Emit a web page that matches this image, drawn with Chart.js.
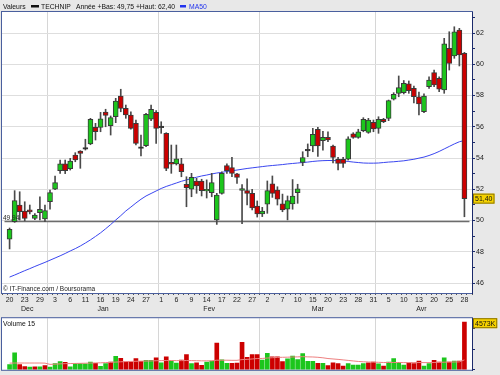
<!DOCTYPE html>
<html>
<head>
<meta charset="utf-8">
<script src="https://cdn.jsdelivr.net/npm/chart.js@4.4.0/dist/chart.umd.min.js"></script>
<style>
  body { margin: 0; background: #e8e8e8; width: 500px; height: 375px; overflow: hidden; position: relative; }
  canvas { position: absolute; left: 0; }
  #main { top: 0; }
  #vol { top: 313px; }
</style>
</head>
<body>
<canvas id="main" width="500" height="313"></canvas>
<canvas id="vol" width="500" height="62"></canvas>
<script>
// TECHNIP, 20 dec -> 28 avr, one entry per trading day
const opens = [48.80,49.92,50.99,50.61,50.68,50.14,50.50,50.10,51.20,52.00,
  53.19,53.62,53.32,54.19,54.45,54.57,54.90,55.96,55.96,56.94,
  56.07,56.64,57.97,57.18,56.75,56.22,54.62,54.79,56.48,56.92,
  55.94,55.58,53.72,53.62,53.62,52.32,52.00,52.53,52.53,51.89,
  51.78,50.03,51.74,53.51,53.38,52.98,51.93,51.91,51.74,50.93,
  50.42,51.04,52.34,51.95,51.06,50.72,51.06,51.78,53.72,54.46,
  54.77,55.84,55.11,55.32,54.77,53.92,53.92,53.92,55.54,55.32,
  55.75,55.64,56.28,55.90,56.48,56.54,57.76,58.14,58.18,58.74,
  58.46,57.92,56.96,58.56,59.46,59.10,58.35,61.02,60.53,62.19,
  60.70];
const highs = [49.52,51.91,51.84,51.20,50.99,50.45,51.52,50.99,51.95,52.85,
  53.87,53.87,53.98,54.34,54.47,55.20,56.54,56.22,56.92,57.12,
  56.69,57.82,58.40,57.39,56.96,56.43,55.47,56.86,57.39,57.03,
  56.32,55.62,54.83,54.83,53.98,52.80,53.02,52.70,52.64,52.60,
  53.02,51.74,53.12,53.62,54.04,53.02,52.30,52.66,51.99,51.25,
  50.84,52.53,52.85,52.16,51.69,51.57,52.62,52.32,54.40,54.90,
  55.90,55.96,55.70,55.68,54.83,54.04,54.04,55.36,55.62,55.84,
  56.58,56.54,56.43,56.64,56.54,57.71,58.18,59.25,58.96,58.93,
  58.60,58.22,58.10,59.20,59.63,59.20,61.66,62.08,62.40,62.30,
  60.76];
const lows = [48.18,49.88,50.03,49.98,50.42,50.05,50.03,49.93,50.72,51.98,
  53.02,53.00,53.23,53.76,53.34,54.51,54.85,55.15,55.68,56.00,
  55.47,56.26,56.96,56.54,55.84,54.83,54.13,54.72,56.39,54.94,
  55.58,53.19,53.02,53.55,52.80,50.88,51.52,51.74,51.57,51.44,
  51.52,49.75,51.68,53.02,52.80,52.38,49.80,50.99,50.67,50.22,
  50.25,50.46,51.48,50.99,50.56,50.04,50.72,51.10,53.51,54.08,
  54.40,54.10,54.50,55.04,53.68,53.23,53.40,53.87,55.26,55.26,
  55.68,55.58,55.68,55.58,56.26,56.39,57.71,57.92,58.10,58.14,
  57.52,56.75,56.90,58.46,58.56,58.24,58.14,59.63,60.38,59.89,
  50.24];
const closes = [49.44,51.27,50.56,50.14,50.55,50.35,50.71,50.64,51.78,52.42,
  53.62,53.19,53.81,53.87,54.30,54.57,56.48,55.68,56.50,56.73,
  56.58,57.65,57.18,56.75,55.90,54.94,54.62,56.80,57.12,55.90,
  55.94,53.34,53.60,53.94,53.12,52.10,52.76,52.21,51.91,51.99,
  52.42,51.63,53.02,53.19,53.02,52.76,52.04,51.74,50.80,50.42,
  50.61,51.91,51.74,51.36,50.67,51.27,51.57,52.02,54.02,54.46,
  55.52,54.77,55.32,55.15,54.04,53.66,53.66,55.22,55.32,55.68,
  56.48,56.43,55.86,56.48,56.32,57.67,58.08,58.50,58.78,58.31,
  57.92,57.46,57.97,58.99,58.67,58.40,61.30,60.06,62.08,60.59,
  51.40];
const ma50 = [46.38,46.51,46.65,46.79,46.92,47.06,47.19,47.32,47.46,47.60,
  47.74,47.89,48.05,48.20,48.37,48.56,48.76,48.98,49.21,49.47,
  49.74,50.03,50.31,50.61,50.86,51.12,51.36,51.57,51.73,51.89,
  52.05,52.18,52.29,52.40,52.51,52.60,52.69,52.77,52.85,52.91,
  52.98,53.04,53.08,53.14,53.18,53.23,53.28,53.33,53.37,53.41,
  53.45,53.49,53.52,53.55,53.58,53.62,53.65,53.68,53.71,53.74,
  53.78,53.81,53.83,53.84,53.84,53.83,53.81,53.78,53.74,53.71,
  53.68,53.67,53.67,53.68,53.71,53.74,53.76,53.79,53.82,53.87,
  53.92,53.99,54.06,54.16,54.28,54.42,54.58,54.74,54.90,55.04,
  55.12];
// volumes in K
const volumes = [508,1639,508,311,254,283,283,396,254,593,
  791,706,283,593,593,565,735,622,339,593,
  735,1300,1102,735,735,1074,819,904,904,1158,
  678,1243,848,650,932,1469,593,678,424,735,
  848,2571,961,622,622,650,2627,1187,1469,1469,
  932,1582,1243,1243,791,1045,1328,989,1554,819,
  819,622,622,396,678,593,367,593,452,452,
  593,678,735,565,367,735,1074,706,452,650,
  593,848,367,593,904,735,1158,735,848,848,
  4573];
const volMa15 = [640,650,650,650,650,650,650,640,520,540,
  570,590,600,610,620,630,650,660,670,690,
  710,740,770,790,800,820,830,840,850,870,
  880,890,890,880,880,890,880,870,860,860,
  860,920,920,920,910,910,980,1000,1040,1080,
  1090,1130,1160,1190,1200,1210,1230,1240,1260,1240,
  1230,1200,1150,1080,1040,1000,950,900,850,800,
  770,750,730,720,700,700,700,700,690,690,
  690,700,690,690,700,710,730,740,750,760,
  950];
const tickIdx = [0,3,6,9,12,15,18,21,24,27,30,33,36,39,42,45,48,51,54,57,60,63,66,69,72,75,78,81,84,87,90];
const tickText = ['20','23','29','3','6','11','16','19','24','27','1','6','9','14','17','22','27','2','7','10','15','20','23','28','31','5','10','13','20','25','28'];
const monthNames = ['Dec','Jan','Fev','Mar','Avr'];
const monthStart = [0, 8, 30, 50, 73];
const refPrice = 49.94;

const GREEN = '#1cc61c', RED = '#cc0000', DOJI = '#222222';
const FONT = 'Liberation Sans, Arial, sans-serif';
const n = closes.length;
const last = n - 1;

const bodyColors = closes.map((c, i) => c > opens[i] ? GREEN : (c < opens[i] ? RED : DOJI));
const volColors = closes.map((c, i) => (i === 0 || c > closes[i - 1]) ? GREEN : RED);
const fmt = v => v.toFixed(2).replace('.', ',');

// white plot area + frame
const panel = {
  id: 'panel',
  beforeDraw(chart) {
    const a = chart.chartArea, ctx = chart.ctx;
    ctx.save();
    ctx.fillStyle = '#ffffff';
    ctx.fillRect(a.left, a.top, a.right - a.left, a.bottom - a.top);
    ctx.restore();
  },
  afterDatasetsDraw(chart) {
    const a = chart.chartArea, ctx = chart.ctx;
    ctx.save();
    ctx.strokeStyle = '#4a5f9e';
    ctx.lineWidth = 1;
    ctx.strokeRect(a.left - 0.5, a.top - 0.5, a.right - a.left + 1, a.bottom - a.top + 1);
    ctx.strokeStyle = '#1b2a6b';
    ctx.beginPath();
    ctx.moveTo(a.right + 0.5, a.top); ctx.lineTo(a.right + 0.5, a.bottom + 1);
    ctx.stroke();
    ctx.restore();
  }
};

function yellowBox(ctx, x, yc, text) {
  ctx.font = '7px ' + FONT;
  const w = ctx.measureText(text).width + 4;
  ctx.fillStyle = '#f5d200';
  ctx.fillRect(x, yc - 5, w, 10);
  ctx.strokeStyle = '#8a7400';
  ctx.strokeRect(x + 0.5, yc - 4.5, w - 1, 9);
  ctx.fillStyle = '#111';
  ctx.textBaseline = 'middle';
  ctx.textAlign = 'left';
  ctx.fillText(text, x + 2, yc + 0.5);
}

const mainText = {
  id: 'mainText',
  afterDraw(chart) {
    const ctx = chart.ctx, x = chart.scales.x, y = chart.scales.y, a = chart.chartArea;
    ctx.save();
    // legend row (year = from first trading day of January)
    const yearHigh = Math.max(...highs.slice(monthStart[1]));
    const yearLow = Math.min(...lows.slice(monthStart[1]));
    ctx.font = '6.8px ' + FONT;
    ctx.textBaseline = 'alphabetic';
    ctx.textAlign = 'left';
    ctx.fillStyle = '#111';
    ctx.fillText('Valeurs', 3, 9);
    ctx.fillRect(31, 5, 8, 2.5);
    ctx.fillText('TECHNIP', 41, 9);
    ctx.fillText('Année +Bas: ' + fmt(yearLow) + ' +Haut: ' + fmt(yearHigh), 76, 9);
    ctx.fillStyle = '#2233ee';
    ctx.fillRect(180, 5, 6, 2.5);
    ctx.fillText('MA50', 189, 9);
    // source + reference price
    ctx.fillStyle = '#222';
    ctx.font = '6.5px ' + FONT;
    ctx.fillText('© IT-Finance.com / Boursorama', a.left + 1, a.bottom - 2);
    ctx.fillText(fmt(refPrice), a.left + 1, y.getPixelForValue(refPrice) - 1.5);
    // months
    ctx.font = '7px ' + FONT;
    ctx.textAlign = 'center';
    ctx.fillStyle = '#222';
    monthNames.forEach((m, k) => {
      const end = k < monthStart.length - 1 ? monthStart[k + 1] - 1 : last;
      ctx.fillText(m, x.getPixelForValue((monthStart[k] + end) / 2), 311);
    });
    // last price box
    yellowBox(ctx, a.right + 1, y.getPixelForValue(closes[last]), fmt(closes[last]));
    ctx.restore();
  }
};

const volText = {
  id: 'volText',
  afterDraw(chart) {
    const ctx = chart.ctx, y = chart.scales.y, a = chart.chartArea;
    ctx.save();
    ctx.font = '6.8px ' + FONT;
    ctx.fillStyle = '#111';
    ctx.textBaseline = 'alphabetic';
    ctx.fillText('Volume 15', a.left + 1, a.top + 8);
    const yc = Math.max(a.top + 5, y.getPixelForValue(volumes[last]) + 1);
    yellowBox(ctx, a.right + 1, yc, volumes[last] + 'K');
    ctx.restore();
  }
};

const monthGrid = ctx => (ctx.tick && monthStart.includes(ctx.tick.value) && ctx.tick.value > 0) ? '#d6d6d6' : 'transparent';

new Chart(document.getElementById('main'), {
  type: 'bar',
  data: {
    datasets: [
      {
        label: 'body',
        data: opens.map((o, i) => ({ x: i, y: [o, closes[i]] })),
        backgroundColor: bodyColors,
        borderColor: '#3a3a3a',
        borderWidth: 1,
        borderSkipped: false,
        barThickness: 5,
        minBarLength: 1.5,
        grouped: false
      },
      {
        label: 'wick',
        data: lows.map((l, i) => ({ x: i, y: [l, highs[i]] })),
        backgroundColor: '#4a4a4a',
        barThickness: 1,
        grouped: false
      },
      {
        type: 'line',
        label: 'MA50',
        data: ma50.map((v, i) => ({ x: i, y: v })),
        borderColor: '#3a46f0',
        borderWidth: 1,
        pointRadius: 0,
        tension: 0
      },
      {
        type: 'line',
        label: 'ref',
        data: [{ x: -1, y: refPrice }, { x: 91, y: refPrice }],
        borderColor: '#6c6c6c',
        borderWidth: 1.6,
        pointRadius: 0
      }
    ]
  },
  options: {
    responsive: false,
    animation: false,
    events: [],
    layout: { padding: { left: 2, top: 12, right: 0, bottom: 0 } },
    plugins: { legend: { display: false }, tooltip: { enabled: false } },
    scales: {
      x: {
        type: 'linear', min: -1, max: 91,
        afterFit: s => { s.height = 20; },
        border: { display: false },
        grid: { color: monthGrid, tickColor: '#555', tickLength: 2 },
        ticks: {
          stepSize: 1, autoSkip: false, maxRotation: 0, includeBounds: false, padding: 1,
          color: '#222', font: { size: 7, family: FONT },
          callback: v => { const k = tickIdx.indexOf(v); return k < 0 ? '' : tickText[k]; }
        }
      },
      y: {
        position: 'right', min: 45.36, max: 63.344,
        afterFit: s => { s.width = 28; },
        border: { color: '#1b2a6b' },
        grid: { color: c => c.tick.value % 2 === 0 ? '#dedede' : 'transparent', tickColor: '#1b2a6b', tickLength: 3 },
        ticks: {
          stepSize: 1, includeBounds: false, padding: 1,
          color: '#222', font: { size: 7, family: FONT },
          callback: v => v % 2 === 0 ? v : ''
        }
      }
    }
  },
  plugins: [panel, mainText]
});

new Chart(document.getElementById('vol'), {
  type: 'bar',
  data: {
    datasets: [
      {
        type: 'line',
        label: 'MA15',
        data: volMa15.map((v, i) => ({ x: i, y: v })),
        borderColor: '#ee8080',
        borderWidth: 1,
        pointRadius: 0,
        tension: 0
      },
      {
        label: 'Volume',
        data: volumes.map((v, i) => ({ x: i, y: v })),
        backgroundColor: volColors,
        barThickness: 4,
        grouped: false
      }
    ]
  },
  options: {
    responsive: false,
    animation: false,
    events: [],
    layout: { padding: { left: 2, top: 0, right: 0, bottom: 3 } },
    plugins: { legend: { display: false }, tooltip: { enabled: false } },
    scales: {
      x: {
        type: 'linear', min: -1, max: 91,
        afterFit: s => { s.height = 0; },
        border: { display: false },
        grid: { color: monthGrid, drawTicks: false },
        ticks: { display: false, stepSize: 1, includeBounds: false }
      },
      y: {
        position: 'right', min: 0, max: 4950,
        afterFit: s => { s.width = 28; },
        border: { color: '#1b2a6b' },
        grid: { color: c => (c.tick.value > 0 && c.tick.value % 2000 === 0) ? '#dedede' : 'transparent', tickColor: '#1b2a6b', tickLength: 3 },
        ticks: {
          stepSize: 1000, includeBounds: false, padding: 1,
          color: '#222', font: { size: 7, family: FONT },
          callback: v => (v > 0 && v % 2000 === 0) ? v + 'K' : ''
        }
      }
    }
  },
  plugins: [panel, volText]
});
</script>
</body>
</html>
